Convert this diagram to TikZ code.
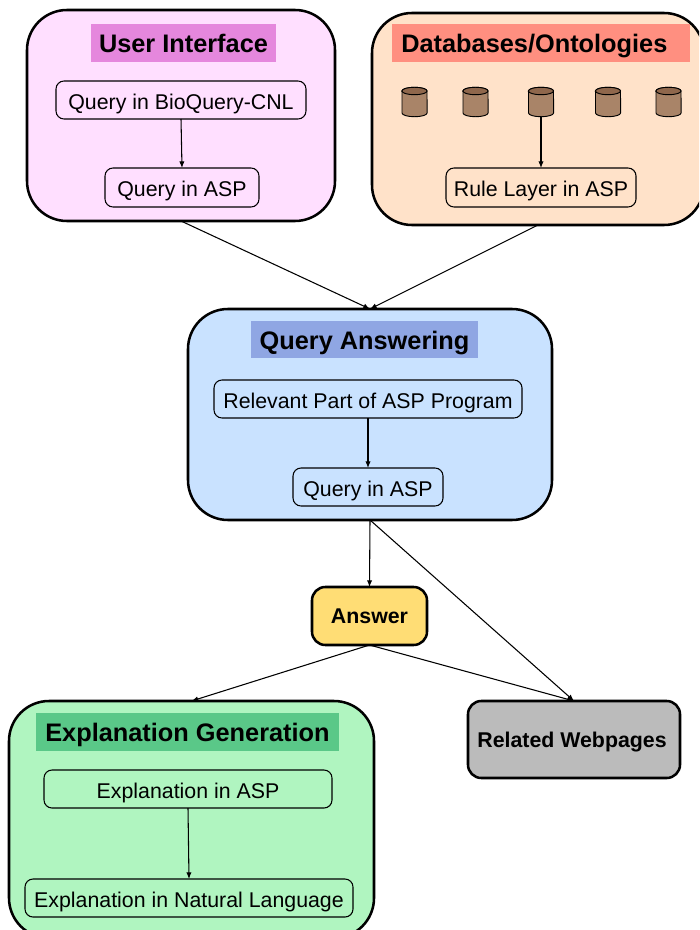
\documentclass[tikz,border=0pt]{standalone}
\usepackage{fontspec}
\setmainfont{Liberation Sans}
\usetikzlibrary{arrows.meta}
\definecolor{uifill}{HTML}{FFDFFF}
\definecolor{uihead}{HTML}{E587DD}
\definecolor{dbfill}{HTML}{FFE2C9}
\definecolor{dbhead}{HTML}{FF8F80}
\definecolor{qafill}{HTML}{C9E2FF}
\definecolor{qahead}{HTML}{8FA6E3}
\definecolor{egfill}{HTML}{B0F5C0}
\definecolor{eghead}{HTML}{5AC888}
\definecolor{ansfill}{HTML}{FFDD75}
\definecolor{relfill}{HTML}{BBBBBB}
\definecolor{cylbody}{HTML}{A98468}
\definecolor{cyltop}{HTML}{8F674C}
\tikzset{
  px/.style={x=.75pt,y=-.75pt},
  wh/.style 2 args={minimum width=#1*.75pt,minimum height=#2*.75pt},
  outerbox/.style={draw=black,line width=1.9pt,rounded corners=30pt,inner sep=0pt,outer sep=0pt},
  headband/.style={inner sep=0pt,outer sep=0pt,text height=16pt,text depth=1.2pt,font=\fontsize{19}{22}\selectfont\bfseries},
  innerbox/.style={draw=black,line width=.8pt,rounded corners=6pt,inner sep=0pt,outer sep=0pt,text height=14pt,text depth=0.2pt,font=\fontsize{16}{18}\selectfont},
  smallbox/.style={draw=black,line width=1.9pt,rounded corners=10pt,inner sep=0pt,outer sep=0pt,text height=14pt,text depth=2.4pt,font=\fontsize{16}{18}\selectfont\bfseries},
  link/.style={draw=black,line width=.8pt,-{Latex[length=5pt,width=4pt]}},
  cylslot/.style={inner sep=0pt,outer sep=0pt,wh={25}{30}},
  cylline/.style={draw=black,line width=.7pt},
}
\newcommand{\drumat}[1]{%
  \begin{scope}[shift={(#1.center)}]
    \path[cylline,fill=cylbody] (-12.5,-11) -- (-12.5,11)
      arc[start angle=180,end angle=360,x radius=9.4pt,y radius=2.8pt]
      -- (12.5,-11)
      arc[start angle=0,end angle=180,x radius=9.4pt,y radius=2.8pt] -- cycle;
    \path[cylline,fill=cyltop] (0,-11) ellipse[x radius=9.4pt,y radius=2.8pt];
  \end{scope}}
\begin{document}
\begin{tikzpicture}[px]
\useasboundingbox (0,0) rectangle (699,930);
\clip (0,0) rectangle (699,930);
% outer panels
\node[outerbox,fill=uifill,wh={308}{211}] (ui) at (181,115.5) {};
\node[outerbox,fill=dbfill,wh={332}{212}] (db) at (538,119) {};
\node[outerbox,fill=qafill,wh={364}{211}] (qa) at (370,414.5) {};
\node[outerbox,fill=egfill,wh={365}{237}] (eg) at (191.5,819.5) {};
\node[smallbox,fill=ansfill,wh={115}{58}] (ans) at (369.5,616) {Answer};
\node[smallbox,fill=relfill,wh={212}{77}] (rel) at (574,739.5) {\hspace*{-3pt}Related Webpages};
% headings
\node[headband,fill=uihead,wh={185}{38}] (uih) at (183.5,43) {User Interface};
\node[headband,fill=dbhead,wh={298}{38}] (dbh) at (541,43) {\hspace*{-10pt}Databases/Ontologies};
\node[headband,fill=qahead,wh={227}{37}] (qah) at (364.5,339.5) {Query Answering};
\node[headband,fill=eghead,wh={303}{38}] (egh) at (187.5,732) {Explanation Generation};
% inner boxes
\node[innerbox,wh={250}{38}] (q1) at (181,100) {Query in BioQuery-CNL};
\node[innerbox,wh={154}{39}] (q2) at (182,187.5) {Query in ASP};
\node[innerbox,wh={190}{39}] (rule) at (541,187.5) {Rule Layer in ASP};
\node[innerbox,wh={308}{38}] (rp) at (368,399) {Relevant Part of ASP Program};
\node[innerbox,wh={150}{38}] (q3) at (368,487) {Query in ASP};
\node[innerbox,wh={288}{38}] (e1) at (188,789) {Explanation in ASP};
\node[innerbox,wh={328}{38}] (e2) at (189,898) {Explanation in Natural Language};
% databases
\node[cylslot] (c1) at (414.5,102) {};
\node[cylslot] (c2) at (475.5,102) {};
\node[cylslot] (c3) at (541,102) {};
\node[cylslot] (c4) at (608,102) {};
\node[cylslot] (c5) at (668.5,102) {};
\drumat{c1}\drumat{c2}\drumat{c3}\drumat{c4}\drumat{c5}
% connectors
\draw[link] (q1.south) -- (q2.north);
\draw[link] (c3.south) -- (rule.north);
\draw[link] (rp.south) -- (q3.north);
\draw[link] (e1.south) -- (e2.north);
\draw[link] (ui.south) -- (qa.north);
\draw[link] (db.south) -- (qa.north);
\draw[link] (qa.south) -- (ans.north);
\draw[link] (qa.south) -- (rel.north);
\draw[link] (ans.south) -- (rel.north);
\draw[link] (ans.south) -- (eg.north);
\end{tikzpicture}
\end{document}
